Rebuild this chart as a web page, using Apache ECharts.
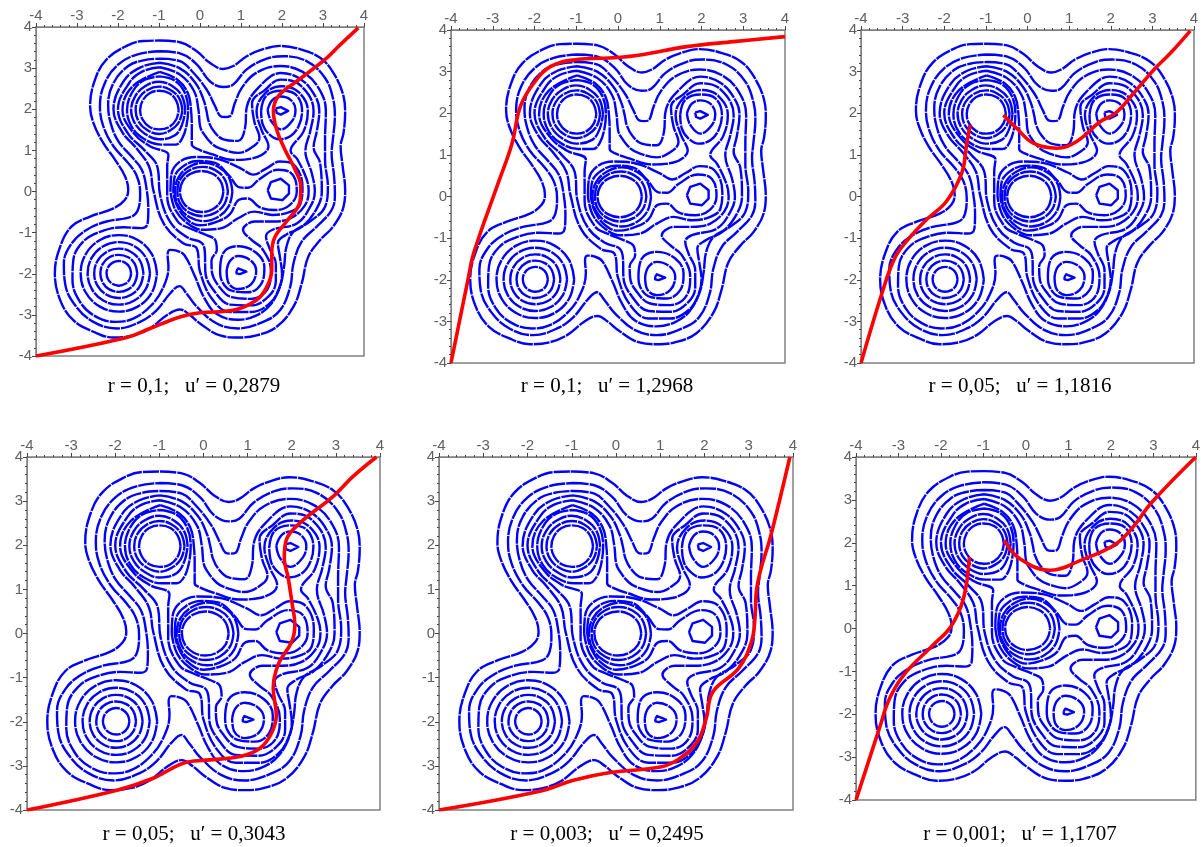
<!DOCTYPE html>
<html><head><meta charset="utf-8">
<style>html,body{margin:0;padding:0;background:#fff}#c{width:1203px;height:847px}</style>
<script src="https://cdn.jsdelivr.net/npm/echarts@6/dist/echarts.min.js"></script>
</head><body><div id="c"></div>
<script>
// Contour lines (x, y in axis units), outermost first
const contourS1=[[-0.98,3.67],[-0.49,3.63],[-0.08,3.41],[0.24,3.13],[0.57,2.98],[0.81,3.05],[1.14,3.29],[1.54,3.46],[1.95,3.54],[2.44,3.46],[2.93,3.25],[3.25,2.89],[3.50,2.32],[3.54,1.91],[3.50,1.42],[3.43,1.10],[3.48,0.61],[3.54,0.04],[3.50,-0.37],[3.25,-0.85],[2.93,-1.18],[2.64,-1.59],[2.48,-2.24],[2.28,-2.80],[1.87,-3.29],[1.38,-3.50],[0.93,-3.55],[0.49,-3.50],[0,-3.21],[-0.24,-3.01],[-0.49,-2.87],[-0.81,-3.01],[-1.22,-3.33],[-1.63,-3.50],[-2.11,-3.55],[-2.60,-3.41],[-3.09,-3.13],[-3.41,-2.64],[-3.54,-1.99],[-3.41,-1.34],[-3.13,-0.85],[-2.68,-0.61],[-2.11,-0.41],[-1.83,-0.20],[-1.75,0.04],[-1.83,0.37],[-2.07,0.77],[-2.36,1.18],[-2.60,1.67],[-2.68,2.07],[-2.56,2.72],[-2.28,3.21],[-1.79,3.54],[-1.38,3.66]];
const contourS2=[[-0.98,3.41],[-0.49,3.36],[-0.08,3.09],[0.24,2.68],[0.57,2.54],[0.81,2.60],[1.14,2.97],[1.63,3.23],[2.03,3.29],[2.60,3.17],[3.05,2.76],[3.25,2.24],[3.29,1.83],[3.24,1.26],[3.21,0.93],[3.27,0.37],[3.29,-0.08],[3.21,-0.45],[2.85,-0.85],[2.48,-1.22],[2.28,-1.75],[2.20,-2.32],[1.95,-2.89],[1.54,-3.17],[0.93,-3.33],[0.41,-3.21],[-0.08,-2.80],[-0.33,-2.48],[-0.50,-2.30],[-0.73,-2.48],[-1.06,-2.89],[-1.46,-3.17],[-2.03,-3.33],[-2.60,-3.17],[-3.05,-2.76],[-3.29,-2.24],[-3.32,-1.75],[-3.13,-1.26],[-2.76,-0.93],[-2.28,-0.73],[-1.67,-0.61],[-1.50,-0.41],[-1.46,-0.04],[-1.54,0.37],[-1.75,0.69],[-2.11,1.10],[-2.36,1.59],[-2.44,2.07],[-2.32,2.64],[-1.99,3.09],[-1.54,3.33]];
const contourS3=[[-0.98,3.23],[-0.49,3.17],[-0.2,2.93],[0.16,2.48],[0.37,2.07],[0.50,1.83],[0.61,1.81],[0.73,1.83],[0.85,2.15],[1.02,2.52],[1.38,2.89],[1.95,3.05],[2.48,2.92],[2.89,2.52],[3.07,1.95],[3.05,1.26],[3.05,0.77],[3.12,0.12],[3.05,-0.37],[2.68,-0.73],[2.28,-0.98],[2.11,-1.34],[2.05,-1.83],[1.95,-2.32],[1.71,-2.76],[1.38,-3.01],[0.93,-3.12],[0.41,-2.98],[0.1,-2.58],[-0.13,-2.05],[-0.38,-1.55],[-0.57,-1.44],[-0.73,-1.42],[-0.79,-1.54],[-0.77,-1.83],[-0.89,-2.32],[-1.18,-2.76],[-1.63,-3.09],[-2.07,-3.17],[-2.56,-3.03],[-2.93,-2.68],[-3.11,-2.15],[-3.09,-1.67],[-2.85,-1.22],[-2.44,-0.98],[-1.87,-0.87],[-1.42,-0.89],[-1.28,-0.79],[-1.26,-0.45],[-1.30,0.04],[-1.42,0.53],[-1.67,0.85],[-1.99,1.22],[-2.18,1.67],[-2.24,2.11],[-2.11,2.64],[-1.75,3.05],[-1.38,3.19]];
const contourS4=[[-0.98,3.13],[-0.5,3.0],[-0.12,2.65],[0.08,2.25],[0.16,1.95],[0.21,1.71],[0.335,1.47],[0.57,1.27],[0.93,1.23],[1.1,1.55],[1.14,2.05],[1.42,2.52],[1.97,2.88],[2.47,2.72],[2.82,2.3],[2.91,1.96],[2.85,1.47],[2.77,1.07],[2.93,0.69],[2.97,0],[2.85,-0.41],[2.5,-0.85],[2.1,-1.05],[1.9,-1.25],[1.95,-1.6],[2.0,-2.0],[1.93,-2.35],[1.7,-2.72],[1.25,-2.93],[0.73,-2.93],[0.3,-2.62],[0.0,-1.95],[-0.08,-1.38],[-0.41,-1.26],[-0.89,-0.77],[-1.14,0.04],[-1.24,0.6],[-1.55,1.05],[-1.9,1.45],[-2.11,2.0],[-1.85,2.7],[-1.45,3.02]];
const contourS5=[[-0.98,3.02],[-0.5,2.85],[-0.15,2.45],[-0.04,2.0],[0.0,1.6],[0.06,1.45],[0.3,1.15],[0.53,1.03],[0.93,0.94],[1.33,1.12],[1.45,1.31],[1.33,1.68],[1.27,2.15],[1.57,2.46],[1.97,2.72],[2.45,2.58],[2.77,1.96],[2.69,1.47],[2.57,0.99],[2.73,0.43],[2.80,0],[2.7,-0.35],[2.37,-0.77],[1.77,-0.93],[1.61,-1.09],[1.69,-1.37],[1.85,-1.77],[1.85,-2.17],[1.69,-2.53],[1.25,-2.77],[0.73,-2.75],[0.37,-2.45],[0.13,-1.95],[0.12,-1.5],[0.04,-1.25],[-0.3,-1.12],[-0.72,-0.75],[-0.97,-0.1],[-1.04,0.6],[-1.35,1.0],[-1.75,1.4],[-2.0,2.0],[-1.72,2.65],[-1.4,2.92]];
const contourS6=[[-0.98,2.91],[-0.55,2.72],[-0.3,2.4],[-0.22,2.0],[-0.2,1.5],[-0.2,1.14],[-0.05,1.03],[0.25,0.92],[0.81,0.77],[1.3,0.81],[1.67,1.10],[1.5,1.5],[1.38,1.95],[1.6,2.4],[2.0,2.56],[2.4,2.42],[2.63,1.96],[2.52,1.45],[2.21,0.99],[2.37,0.79],[2.6,0.3],[2.65,0],[2.55,-0.35],[2.21,-0.65],[1.77,-0.73],[1.33,-0.73],[1.13,-0.81],[1.05,-0.93],[1.25,-1.17],[1.53,-1.41],[1.73,-1.93],[1.65,-2.37],[1.25,-2.61],[0.77,-2.57],[0.45,-2.29],[0.29,-1.95],[0.28,-1.67],[0.41,-1.42],[0.37,-1.18],[0.16,-1.06],[-0.24,-0.9],[-0.55,-0.72],[-0.8,-0.1],[-0.8,0.6],[-0.77,0.89],[-1.22,1.10],[-1.62,1.42],[-1.89,1.98],[-1.65,2.55]];
// peak at (-1, 2)
const ringA1=[[-0.99,2.80],[-0.62,2.7],[-0.38,2.42],[-0.29,2.0],[-0.33,1.6],[-0.44,1.28],[-0.6,1.14],[-0.95,1.14],[-1.35,1.27],[-1.65,1.55],[-1.78,1.98],[-1.65,2.42],[-1.38,2.7]];
const ringA2=[[-0.36,1.98],[-0.44,2.32],[-0.67,2.56],[-1.0,2.67],[-1.34,2.56],[-1.58,2.32],[-1.68,1.98],[-1.58,1.64],[-1.34,1.40],[-1.0,1.27],[-0.62,1.36],[-0.44,1.62]];
const ringA3=[[-0.43,1.98],[-0.51,2.27],[-0.72,2.47],[-1.0,2.55],[-1.28,2.47],[-1.49,2.27],[-1.57,1.98],[-1.49,1.69],[-1.28,1.49],[-1.0,1.40],[-0.72,1.49],[-0.51,1.69]];
const ringA4=[[-0.52,1.98],[-0.58,2.21],[-0.75,2.39],[-0.99,2.45],[-1.23,2.39],[-1.40,2.21],[-1.46,1.98],[-1.40,1.75],[-1.23,1.57],[-0.99,1.51],[-0.75,1.57],[-0.58,1.75]];
// peak at (0, 0) and its shoulder at (2, 0)
const ringB1=[[-0.72,0],[-0.7,0.4],[-0.5,0.72],[-0.1,0.84],[0.4,0.8],[0.98,0.57],[1.3,0.41],[1.63,0.57],[1.95,0.73],[2.32,0.62],[2.5,0.1],[2.45,-0.3],[2.21,-0.49],[1.77,-0.57],[1.33,-0.49],[0.93,-0.65],[0.53,-0.89],[0.05,-0.93],[-0.3,-0.78],[-0.6,-0.45]];
const ringB2=[[-0.65,0],[-0.62,0.35],[-0.4,0.62],[-0.05,0.74],[0.35,0.7],[0.7,0.4],[0.97,0.1],[1.17,0.09],[1.45,0.3],[1.91,0.53],[2.25,0.42],[2.36,0],[2.2,-0.32],[1.85,-0.45],[1.45,-0.38],[1.17,-0.17],[0.95,-0.2],[0.73,-0.55],[0.45,-0.72],[0.0,-0.82],[-0.35,-0.65],[-0.58,-0.3]];
const ringB3=[[0.79,-0.01],[0.7,0.35],[0.44,0.6],[0.09,0.7],[-0.26,0.6],[-0.52,0.35],[-0.61,-0.01],[-0.52,-0.36],[-0.26,-0.62],[0.09,-0.72],[0.44,-0.62],[0.7,-0.36]];
const ringB4=[[0.68,0],[0.6,0.3],[0.37,0.52],[0.06,0.6],[-0.25,0.52],[-0.48,0.3],[-0.55,0],[-0.48,-0.3],[-0.25,-0.52],[0.06,-0.6],[0.37,-0.52],[0.6,-0.3]];
const ringB5=[[0.57,0],[0.50,0.25],[0.31,0.43],[0.04,0.5],[-0.23,0.43],[-0.42,0.25],[-0.49,0],[-0.42,-0.25],[-0.23,-0.43],[0.04,-0.5],[0.31,-0.43],[0.50,-0.25]];
const hexagonB=[[1.65,0.03],[1.73,0.23],[1.97,0.31],[2.17,0.15],[2.17,-0.05],[2.01,-0.21],[1.73,-0.17]];
// peak at (2, 2)
const ringC1=[[1.49,1.96],[1.61,2.32],[1.97,2.45],[2.33,2.36],[2.49,1.96],[2.41,1.6],[2.21,1.35],[1.93,1.27],[1.69,1.39],[1.53,1.63]];
const ringC2=[[1.65,1.99],[1.77,2.23],[1.97,2.31],[2.21,2.23],[2.33,1.99],[2.25,1.72],[1.97,1.51],[1.73,1.72]];
const markC=[[1.85,2.02],[1.97,2.05],[2.15,1.96],[1.97,1.87],[1.87,1.91]];
// peak at (1, -2)
const ringD1=[[0.49,-1.93],[0.57,-1.49],[0.93,-1.33],[1.37,-1.49],[1.57,-1.85],[1.49,-2.25],[1.17,-2.45],[0.77,-2.41],[0.53,-2.17]];
const ringD2=[[0.65,-1.93],[0.73,-1.69],[0.93,-1.57],[1.25,-1.69],[1.37,-1.93],[1.25,-2.25],[0.93,-2.37],[0.69,-2.21]];
const markD=[[0.89,-1.93],[0.93,-1.87],[1.13,-1.95],[0.97,-2.01],[0.89,-1.99]];
// peak at (-2, -2)
const ringE1=[[-1.05,-1.99],[-1.17,-1.53],[-1.52,-1.18],[-1.98,-1.06],[-2.44,-1.18],[-2.79,-1.53],[-2.91,-1.99],[-2.79,-2.45],[-2.44,-2.80],[-1.98,-2.92],[-1.52,-2.80],[-1.17,-2.45]];
const ringE2=[[-1.22,-1.99],[-1.32,-1.61],[-1.60,-1.33],[-1.98,-1.23],[-2.36,-1.33],[-2.64,-1.61],[-2.74,-1.99],[-2.64,-2.37],[-2.36,-2.65],[-1.98,-2.75],[-1.60,-2.65],[-1.32,-2.37]];
const ringE3=[[-1.38,-1.99],[-1.46,-1.69],[-1.68,-1.47],[-1.98,-1.39],[-2.28,-1.47],[-2.50,-1.69],[-2.58,-1.99],[-2.50,-2.29],[-2.28,-2.51],[-1.98,-2.59],[-1.68,-2.51],[-1.46,-2.29]];
const ringE4=[[-1.53,-1.99],[-1.59,-1.76],[-1.75,-1.60],[-1.98,-1.54],[-2.21,-1.60],[-2.37,-1.76],[-2.43,-1.99],[-2.37,-2.22],[-2.21,-2.38],[-1.98,-2.44],[-1.75,-2.38],[-1.59,-2.22]];
const ringE5=[[-1.68,-1.99],[-1.72,-1.84],[-1.83,-1.73],[-1.98,-1.69],[-2.13,-1.73],[-2.24,-1.84],[-2.28,-1.99],[-2.24,-2.14],[-2.13,-2.25],[-1.98,-2.29],[-1.83,-2.25],[-1.72,-2.14]];

// Red trajectories, one set per panel
const path1=[[[-4,-4],[-1.79,-3.55],[-1.22,-3.33],[-0.49,-3.05],[0,-2.95],[0.81,-2.89],[1.38,-2.64],[1.63,-2.32],[1.75,-1.91],[1.75,-1.5],[1.83,-1.10],[2.11,-0.73],[2.44,-0.24],[2.46,0.12],[2.32,0.53],[2.07,1.02],[1.87,1.5],[1.79,1.95],[1.91,2.32],[2.36,2.68],[3.05,3.21],[3.4,3.55],[3.86,3.98]]];
const path2=[[[-4,-4],[-3.58,-1.93],[-3.46,-1.37],[-2.86,0.35],[-2.54,1.27],[-2.34,2.16],[-2.02,2.72],[-1.62,3.12],[-1.06,3.28],[-0.02,3.34],[0.53,3.40],[1.65,3.6],[2.77,3.72],[4,3.84]]];
const path3=[[[-4,-4],[-3.47,-2.24],[-3.19,-1.48],[-2.91,-1.08],[-2.43,-0.56],[-1.95,-0.12],[-1.58,0.56],[-1.47,1.2],[-1.38,1.72]],[[-0.58,1.96],[-0.26,1.64],[0.14,1.28],[0.70,1.16],[1.18,1.32],[1.75,1.8],[2.11,2.0],[2.55,2.48],[3.03,3.04],[3.43,3.44],[3.91,3.98]]];
const path4=[[[-4,-4],[-1.96,-3.55],[-1.14,-3.28],[-0.46,-2.94],[0.07,-2.87],[0.83,-2.79],[1.28,-2.6],[1.54,-2.26],[1.65,-1.85],[1.58,-1.24],[1.69,-0.71],[2.0,-0.18],[2.07,0.2],[2.0,0.73],[1.92,1.26],[1.83,1.71],[1.88,2.13],[2.18,2.5],[2.94,3.11],[3.39,3.56],[3.92,4.0]]];
const path5=[[[-4,-4],[-1.75,-3.58],[-0.94,-3.32],[-0.13,-3.15],[1.03,-3.02],[1.44,-2.83],[1.84,-2.45],[2.04,-1.92],[2.19,-1.32],[2.77,-0.79],[3.06,-0.19],[3.14,0.34],[3.18,1.02],[3.52,2.3],[3.93,4.0]]];
const path6=[[[-4,-4],[-3.45,-2.33],[-3.21,-1.63],[-2.85,-1.05],[-2.19,-0.39],[-1.77,0.04],[-1.47,0.70],[-1.33,1.67]],[[-0.51,2.06],[-0.15,1.63],[0.57,1.36],[1.29,1.59],[2.07,1.94],[2.49,2.33],[2.97,2.95],[4,4]]];

const captions=["r = 0,1;   u′ = 0,2879","r = 0,1;   u′ = 1,2968","r = 0,05;   u′ = 1,1816","r = 0,05;   u′ = 0,3043","r = 0,003;   u′ = 0,2495","r = 0,001;   u′ = 1,1707"];
const axisMin=-4, axisMax=4, axisStep=1;

const roundContours=[contourS1,contourS2,contourS3,contourS4,contourS5,contourS6,ringA1,ringA2,ringA3,ringA4,ringB1,ringB2,ringB3,ringB4,ringB5,ringC1,ringC2,ringD1,ringD2,ringE1,ringE2,ringE3,ringE4,ringE5];
const sharpContours=[hexagonB,markC,markD];
const paths=[path1,path2,path3,path4,path5,path6];

// layout: [left, top, width, height, captionX, captionY]
const layout=[[36,27,328,329,194,386],[451,30,334,333,607,386],[861,30,333,333,1020,386],[27,457,353,353,194,834],[439,457,354,353,607,834],[856,457,342,343,1020,834]];

const axisColor='#808080', labelColor='#606060';
function axis(pos,i){return {type:'value',gridIndex:i,position:pos,min:axisMin,max:axisMax,interval:axisStep,
  axisLine:{show:true,onZero:false,lineStyle:{color:axisColor,width:1}},
  axisTick:{show:true,length:4,inside:false,lineStyle:{color:'#444',width:1}},
  minorTick:{show:true,splitNumber:5,length:2,lineStyle:{color:'#444',width:1}},
  splitLine:{show:false},minorSplitLine:{show:false},
  axisLabel:{show:true,color:labelColor,fontFamily:'Liberation Sans',fontSize:15,margin:4,showMinLabel:true,showMaxLabel:true,hideOverlap:false}};}
const grid=[],xAxis=[],yAxis=[],series=[],title=[];
layout.forEach((b,i)=>{
  grid.push({left:b[0],top:b[1],width:b[2],height:b[3],show:true,borderColor:axisColor,borderWidth:1.5,backgroundColor:'#fff'});
  xAxis.push(axis('top',i));yAxis.push(axis('left',i));
  title.push({text:captions[i],left:b[4],top:b[5]-10,textAlign:'center',padding:0,textStyle:{fontFamily:'Liberation Serif',fontSize:21,fontWeight:'normal',color:'#000'}});
  const line=(data,color,width,smooth,dash,z)=>series.push({type:'line',xAxisIndex:i,yAxisIndex:i,data,symbol:'none',smooth,clip:true,silent:true,z,animation:false,lineStyle:{color,width,type:dash,cap:'butt',join:'round'}});
  roundContours.forEach(c=>line(c.concat([c[0]]),'#0000ff',2.4,0.4,[16,1],2));
  sharpContours.forEach(c=>line(c.concat([c[0]]),'#0000ff',2.4,false,'solid',2));
  paths[i].forEach(p=>line(p,'#ff0000',3.6,0.4,'solid',3));
});
const chart=echarts.init(document.getElementById('c'),null,{renderer:'canvas'});
chart.setOption({animation:false,backgroundColor:'#fff',tooltip:{show:false},legend:{show:false},title,grid,xAxis,yAxis,series});
</script></body></html>
